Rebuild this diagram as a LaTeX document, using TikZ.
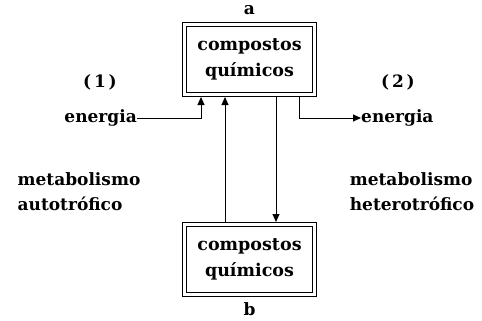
\documentclass[tikz,border=0pt]{standalone}
\usepackage{fontspec}
\setmainfont{DejaVu Serif}
\usetikzlibrary{arrows.meta}
\begin{document}
\begin{tikzpicture}[x=1pt,y=-1pt,
  txt/.style={font=\fontsize{17}{25}\selectfont\bfseries, inner sep=0pt, align=center},
  dbox/.style={draw, double, double distance=3pt, line width=0.9pt, outer sep=2.5pt,
    minimum width=130pt, minimum height=70pt, inner sep=0pt, align=center,
    font=\fontsize{17.5}{26}\selectfont\bfseries},
  conn/.style={line width=0.9pt},
  arr/.style={conn, -{Triangle[length=8pt,width=7pt]}}]
\useasboundingbox (0,0) rectangle (482,321);
\node[dbox] (A) at (249.5,59.5) {compostos\\químicos};
\node[dbox] (B) at (249.5,259.5) {compostos\\químicos};
\node[txt] (la) at (249.5,10) {a};
\node[txt] (lb) at (249.5,309) {b};
\node[txt] (n1) at (100,82) {(\,1\,)};
\node[txt] (n2) at (398,82) {(\,2\,)};
\node[txt,anchor=east] (e1) at (137,118) {energia};
\node[txt,anchor=west] (e2) at (361,118) {energia};
\node[txt,align=left] (m1) at (79,192) {metabolismo\\autotrófico};
\node[txt,align=left] (m2) at (412,192) {metabolismo\\heterotrófico};
\coordinate (A1) at (A.south -| 201,0);
\coordinate (A2) at (A.south -| 225,0);
\coordinate (A3) at (A.south -| 276,0);
\coordinate (A4) at (A.south -| 299,0);
\coordinate (B2) at (B.north -| 225,0);
\coordinate (B3) at (B.north -| 276,0);
\draw[arr] (e1.east) -| (A1);
\draw[arr] (A4) |- (e2.west);
\draw[arr] (B2) -- (A2);
\draw[arr] (A3) -- (B3);
\end{tikzpicture}
\end{document}
